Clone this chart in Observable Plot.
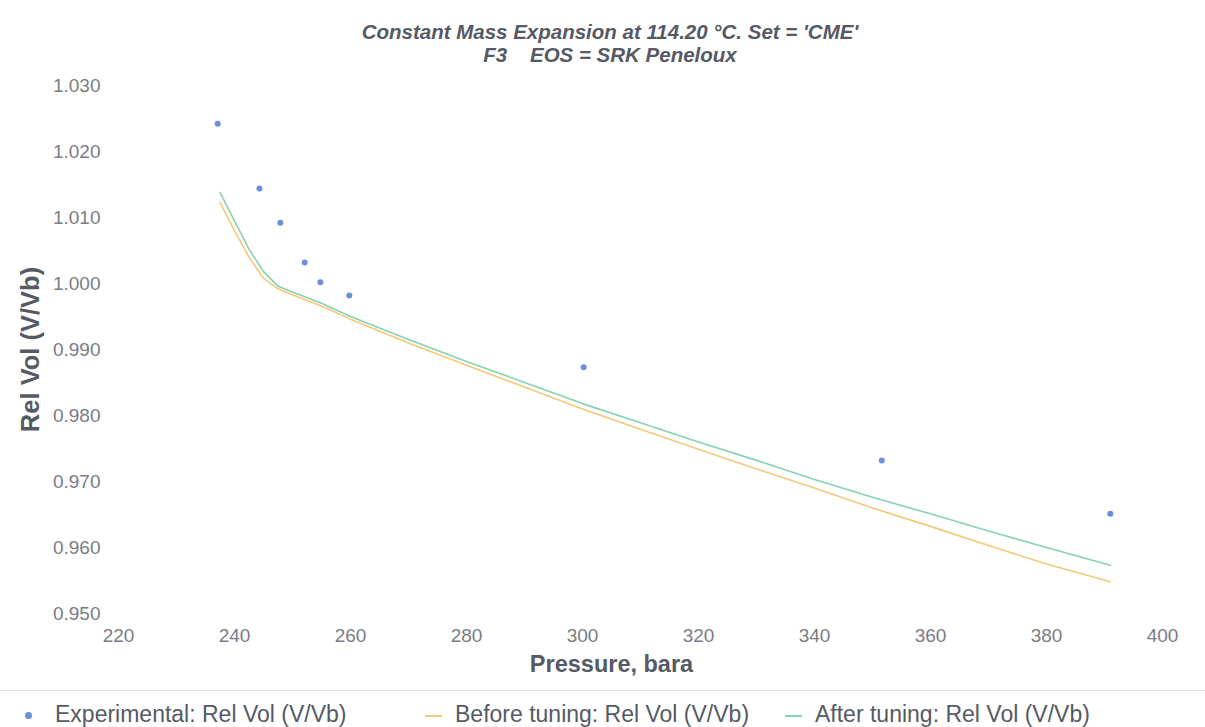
<!DOCTYPE html>
<html>
<head>
<meta charset="utf-8">
<script src="https://cdn.jsdelivr.net/npm/d3@7"></script>
<script src="https://cdn.jsdelivr.net/npm/@observablehq/plot@0.6"></script>
<style>
  html, body { margin: 0; padding: 0; background: #fff; }
  #wrap { position: relative; width: 1205px; height: 727px; overflow: hidden; font-family: "Liberation Sans", Arial, sans-serif; }
  #title { position: absolute; left: 0; top: 20px; width: 1220px; text-align: center; font-weight: bold; font-style: italic; font-size: 20.5px; line-height: 23px; color: #555a64; }
  #chart { position: absolute; left: 0; top: 70px; }
  #legend { position: absolute; left: 0; top: 690px; width: 1205px; height: 37px; border-top: 1px solid #e2e2e2; }
  .item { position: absolute; top: 10px; font-size: 23px; line-height: 26px; color: #555a64; white-space: nowrap; }
  .sym { position: absolute; }
</style>
</head>
<body>
<div id="wrap">
  <div id="title">Constant Mass Expansion at 114.20 °C. Set = 'CME'<br>F3&nbsp;&nbsp;&nbsp;&nbsp;EOS = SRK Peneloux</div>
  <div id="chart"></div>
  <div id="legend"></div>
</div>
<script>
// Experimental CME points
const expPressure = [237.1, 244.3, 247.9, 252.1, 254.8, 259.8, 300.2, 351.6, 391.0];
const expRelVol   = [1.0242, 1.0144, 1.0092, 1.0032, 1.0002, 0.9982, 0.9873, 0.9732, 0.9651];

// EOS-simulated curves
const simPressure   = [237.5, 240, 242.5, 245, 247.5, 250, 255, 260, 270, 280, 290, 300, 310, 320, 330, 340, 350, 360, 370, 380, 391];
const beforeRelVol  = [1.0123, 1.0080, 1.0040, 1.0008, 0.9992, 0.9983, 0.9966, 0.9946, 0.9910, 0.9876, 0.9843, 0.9810, 0.9779, 0.9749, 0.9719, 0.9690, 0.9660, 0.9632, 0.9603, 0.9575, 0.9548];
const afterRelVol   = [1.0138, 1.0095, 1.0052, 1.0018, 0.9996, 0.9987, 0.9970, 0.9950, 0.9915, 0.9882, 0.9850, 0.9818, 0.9789, 0.9760, 0.9732, 0.9703, 0.9676, 0.9651, 0.9625, 0.9600, 0.9573];

const xTicks = [220, 240, 260, 280, 300, 320, 340, 360, 380, 400];
const yTicks = [0.950, 0.960, 0.970, 0.980, 0.990, 1.000, 1.010, 1.020, 1.030];

const seriesNames = ["Experimental: Rel Vol (V/Vb)", "Before tuning: Rel Vol (V/Vb)", "After tuning: Rel Vol (V/Vb)"];
const seriesColors = ["#6a8fdf", "#f4c878", "#86d3b0"];

const expData = expPressure.map((p, i) => ({p, v: expRelVol[i]}));
const beforeData = simPressure.map((p, i) => ({p, v: beforeRelVol[i]}));
const afterData = simPressure.map((p, i) => ({p, v: afterRelVol[i]}));

const plot = Plot.plot({
  width: 1205,
  height: 620,
  marginLeft: 118,
  marginRight: 43,
  marginTop: 15,
  marginBottom: 77,
  style: { fontFamily: "'Liberation Sans', Arial, sans-serif", background: "transparent" },
  x: { domain: [220, 400] },
  y: { domain: [0.95, 1.03] },
  marks: [
    Plot.axisX({ ticks: xTicks, tickSize: 0, tickPadding: 15, fontSize: 19, fill: "#7a7d85", label: null }),
    Plot.axisY({ ticks: yTicks, tickSize: 0, tickPadding: 18, fontSize: 19, fill: "#7a7d85", tickFormat: d3.format(".3f"), label: null }),
    Plot.line(beforeData, { x: "p", y: "v", stroke: seriesColors[1], strokeWidth: 1.6 }),
    Plot.line(afterData, { x: "p", y: "v", stroke: seriesColors[2], strokeWidth: 1.6 }),
    Plot.dot(expData, { x: "p", y: "v", r: 3, fill: seriesColors[0] }),
    Plot.text(["Pressure, bara"], { frameAnchor: "bottom", dx: -29, dy: 58, fontSize: 23.5, fontWeight: "bold", fill: "#555a64" }),
    Plot.text(["Rel Vol (V/Vb)"], { frameAnchor: "left", textAnchor: "middle", dx: -88, rotate: -90, fontSize: 25.5, fontWeight: "bold", fill: "#555a64" })
  ]
});
document.getElementById("chart").appendChild(plot);

// Legend row below the chart
const legend = document.getElementById("legend");
const itemX = [55, 455, 815];
seriesNames.forEach((name, i) => {
  const t = document.createElement("div");
  t.className = "item";
  t.style.left = itemX[i] + "px";
  t.textContent = name;
  legend.appendChild(t);
  const s = document.createElement("div");
  s.className = "sym";
  if (i === 0) {
    Object.assign(s.style, { left: "25px", top: "21px", width: "7px", height: "7px", borderRadius: "50%", background: seriesColors[0] });
  } else {
    Object.assign(s.style, { left: (itemX[i] - 30) + "px", top: "24px", width: "17px", height: "2px", background: seriesColors[i] });
  }
  legend.appendChild(s);
});
</script>
</body>
</html>
